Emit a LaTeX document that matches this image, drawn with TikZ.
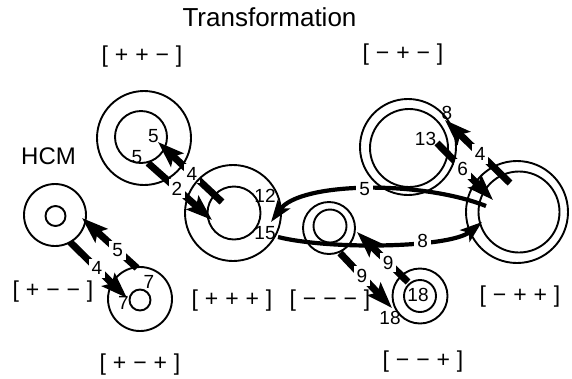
\documentclass[tikz,border=0pt]{standalone}
\usepackage{fontspec}
\setmainfont{Liberation Sans}
\usetikzlibrary{arrows.meta,calc}
\pgfdeclarelayer{bg}
\pgfsetlayers{bg,main}
\newcommand{\gp}{\hspace{0.3em}}
\begin{document}
\begin{tikzpicture}[x=1pt,y=-1pt,
  ring/.style={circle,draw,line width=1.9pt,inner sep=0pt},
  num/.style={font=\fontsize{19}{19}\selectfont,inner sep=0pt},
  gaplbl/.style={num,fill=white,inner sep=3pt},
  statelbl/.style={font=\fontsize{23}{23}\selectfont,inner sep=0pt},
  flow/.style={line width=7pt,-{Stealth[length=26pt,width=18pt,inset=5pt]}},
  curveflow/.style={line width=4.2pt,-{Stealth[length=22pt,width=15pt,inset=5pt]}},
]
\useasboundingbox (0,0) rectangle (572,378);

% titles
\node[font=\fontsize{26}{26}\selectfont,inner sep=0pt] (title) at (269.5,17) {Transformation};
\node[font=\fontsize{24}{24}\selectfont,inner sep=0pt] (hcm) at (48.5,156.5) {HCM};

% state circles
\node[ring,minimum size=94pt] (ppmO) at (144,138) {};
\node[ring,minimum size=52pt] (ppmI) at (141,137) {};
\node[ring,minimum size=62pt] (hcmO) at (55,215) {};
\node[ring,minimum size=20pt] (hcmI) at (55.5,216) {};
\node[ring,minimum size=64pt] (pmpO) at (140,299) {};
\node[ring,minimum size=21pt] (pmpI) at (140,300) {};
\node[ring,minimum size=96pt] (pppO) at (233,213) {};
\node[ring,minimum size=53pt] (pppI) at (234,213) {};
\node[ring,minimum size=52pt] (mmmO) at (329,228) {};
\node[ring,minimum size=33pt] (mmmI) at (330,226) {};
\node[ring,minimum size=96pt] (mpmO) at (408,147) {};
\node[ring,minimum size=78pt] (mpmI) at (409,148) {};
\node[ring,minimum size=102pt] (mppO) at (517,212) {};
\node[ring,minimum size=81pt] (mppI) at (519,212) {};
\node[ring,minimum size=55pt] (mmpO) at (420,296) {};
\node[ring,minimum size=32pt] (mmpI) at (420,296) {};

% state labels
\node[statelbl] (lppm) at (142,57) {[\gp+\gp+\gp−\gp]};
\node[statelbl] (lmpm) at (403,55) {[\gp−\gp+\gp−\gp]};
\node[statelbl] (lpmm) at (53,292) {[\gp+\gp−\gp−\gp]};
\node[statelbl] (lpmp) at (140,365) {[\gp+\gp−\gp+\gp]};
\node[statelbl] (lppp) at (232,301) {[\gp+\gp+\gp+\gp]};
\node[statelbl] (lmmm) at (330,301) {[\gp−\gp−\gp−\gp]};
\node[statelbl] (lmpp) at (520,297) {[\gp−\gp+\gp+\gp]};
\node[statelbl] (lmmp) at (423,362) {[\gp−\gp−\gp+\gp]};

% arrow end points
\coordinate (a1t) at ($(pppI.center)+(-12,-11)$);
\coordinate (a1h) at ($(ppmI.center)+(17,5)$);
\coordinate (a2t) at ($(ppmI.center)+(7,26)$);
\coordinate (a2h) at ($(pppI.center)+(-22,7)$);
\coordinate (a3t) at ($(pmpO.center)+(-3,-31)$);
\coordinate (a3h) at ($(hcmO.center)+(27,3)$);
\coordinate (a4t) at ($(hcmO.center)+(15,27)$);
\coordinate (a4h) at ($(pmpI.center)+(-13,-2)$);
\coordinate (a5t) at ($(mmpI.center)+(-12,-14)$);
\coordinate (a5h) at ($(mmmO.center)+(28,4)$);
\coordinate (a6t) at ($(mmmO.center)+(11,25)$);
\coordinate (a6h) at ($(mmpO.center)+(-28,12)$);
\coordinate (a7t) at ($(mppI.center)+(-9,-29)$);
\coordinate (a7h) at ($(mpmO.center)+(37,-27)$);
\coordinate (a8t) at ($(mpmI.center)+(28,-5)$);
\coordinate (a8h) at ($(mppO.center)+(-24,-12)$);
\coordinate (cut) at ($(mppO.center)+(-31,-6)$);
\coordinate (cuh) at ($(pppO.center)+(38,9)$);
\coordinate (clt) at ($(pppO.center)+(45,24)$);
\coordinate (clh) at ($(mppO.center)+(-35,10)$);

\begin{pgfonlayer}{bg}
\draw[flow] (a1t) -- node[gaplbl,pos=.47]{4} (a1h);
\draw[flow] (a2t) -- node[gaplbl,pos=.45]{2} (a2h);
\draw[flow] (a3t) -- node[gaplbl,pos=.35]{5} (a3h);
\draw[flow] (a4t) -- node[gaplbl,pos=.47]{4} (a4h);
\draw[flow] (a5t) -- node[gaplbl,pos=.39]{9} (a5h);
\draw[flow] (a6t) -- node[gaplbl,pos=.42]{9} (a6h);
\draw[flow] (a7t) -- node[gaplbl,pos=.46]{4} (a7h);
\draw[flow] (a8t) -- node[gaplbl,pos=.46]{6} (a8h);
\draw[curveflow] (cut) .. controls (420,180) and (300,182) .. node[gaplbl,pos=.5]{5} (cuh);
\draw[curveflow] (clt) .. controls (330,250) and (450,248) .. node[gaplbl,pos=.65]{8} (clh);
\end{pgfonlayer}

% end labels
\node[num] (n1) at (153.5,136) {5};
\node[num] (n2) at (137,157.5) {5};
\node[num] (n3) at (149,281.5) {7};
\node[num] (n4) at (123.5,303) {7};
\node[num] (n5) at (390,318) {18};
\node[num] (n6) at (418,295) {18};
\node[num] (n7) at (447,113) {8};
\node[num] (n8) at (425.5,138.5) {13};
\node[num] (n9) at (265,195.5) {12};
\node[num] (n10) at (265,233) {15};
\end{tikzpicture}
\end{document}
